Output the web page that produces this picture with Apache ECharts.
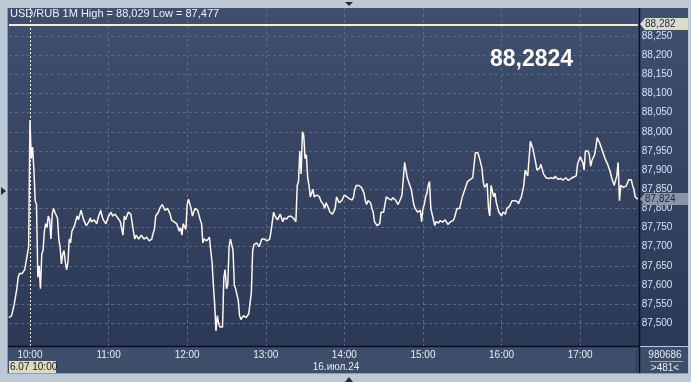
<!DOCTYPE html>
<html><head><meta charset="utf-8">
<script src="https://cdn.jsdelivr.net/npm/echarts@6/dist/echarts.min.js"></script>
<style>html,body{margin:0;padding:0;background:#bcc8d6;overflow:hidden}#c{width:691px;height:382px}</style>
</head><body><div id="c"></div>
<script>
// USD/RUB 1M bars (close), 16.07.24, 09:44 .. 17:44 (481 bars)
const startMinute = 9 * 60 + 44;
const stepMinutes = 1;
const values = [
87.515,87.52,87.52,87.525,87.55,87.57,87.59,87.62,87.63,87.625,87.63,87.635,87.64,87.645,87.68,87.70,88.03,87.93,87.96,87.90,
87.82,87.81,87.62,87.65,87.59,87.68,87.69,87.74,87.76,87.75,87.78,87.77,87.72,87.785,87.80,87.79,87.79,87.775,87.72,87.70,
87.655,87.68,87.69,87.66,87.64,87.66,87.72,87.71,87.74,87.745,87.755,87.75,87.78,87.77,87.77,87.795,87.80,87.77,87.765,87.755,
87.76,87.765,87.775,87.765,87.765,87.77,87.765,87.76,87.775,87.785,87.795,87.78,87.77,87.765,87.76,87.77,87.78,87.775,87.79,87.78,
87.78,87.785,87.785,87.775,87.775,87.765,87.765,87.73,87.78,87.77,87.78,87.79,87.795,87.785,87.78,87.74,87.72,87.73,87.725,87.72,
87.72,87.73,87.73,87.72,87.72,87.725,87.725,87.715,87.715,87.72,87.735,87.745,87.78,87.785,87.79,87.80,87.80,87.81,87.805,87.795,
87.79,87.80,87.795,87.785,87.77,87.775,87.765,87.76,87.76,87.765,87.74,87.75,87.73,87.76,87.76,87.745,87.81,87.824,87.82,87.80,
87.78,87.79,87.80,87.805,87.795,87.79,87.77,87.76,87.71,87.72,87.725,87.715,87.72,87.725,87.69,87.66,87.60,87.55,87.48,87.52,
87.50,87.49,87.485,87.49,87.62,87.64,87.59,87.60,87.70,87.72,87.72,87.69,87.60,87.59,87.585,87.56,87.52,87.51,87.51,87.52,
87.525,87.515,87.515,87.525,87.52,87.58,87.69,87.705,87.705,87.71,87.715,87.70,87.71,87.72,87.725,87.72,87.72,87.715,87.72,87.72,
87.74,87.735,87.79,87.78,87.78,87.77,87.77,87.785,87.78,87.765,87.775,87.775,87.772,87.778,87.775,87.78,87.78,87.775,87.77,87.765,
87.86,87.87,87.95,87.89,88.00,87.99,87.93,87.94,87.88,87.86,87.83,87.825,87.85,87.83,87.83,87.835,87.84,87.83,87.82,87.825,
87.81,87.80,87.815,87.81,87.80,87.79,87.79,87.785,87.79,87.80,87.83,87.825,87.815,87.81,87.82,87.825,87.835,87.83,87.83,87.825,
87.825,87.82,87.822,87.83,87.85,87.86,87.865,87.86,87.86,87.855,87.85,87.84,87.82,87.81,87.82,87.825,87.815,87.80,87.79,87.765,
87.76,87.755,87.755,87.76,87.79,87.785,87.79,87.795,87.83,87.825,87.825,87.82,87.822,87.828,87.828,87.822,87.825,87.81,87.81,87.825,
87.835,87.84,87.92,87.90,87.88,87.875,87.86,87.85,87.83,87.81,87.80,87.805,87.79,87.795,87.795,87.765,87.80,87.81,87.83,87.84,
87.86,87.87,87.80,87.795,87.77,87.755,87.765,87.77,87.762,87.768,87.77,87.764,87.766,87.77,87.764,87.758,87.76,87.765,87.76,87.768,
87.775,87.78,87.80,87.795,87.80,87.805,87.83,87.825,87.85,87.845,87.87,87.865,87.875,87.88,87.88,87.885,87.945,87.94,87.945,87.95,
87.92,87.905,87.87,87.855,87.86,87.865,87.80,87.78,87.86,87.855,87.83,87.84,87.815,87.82,87.79,87.795,87.78,87.79,87.79,87.785,
87.80,87.795,87.805,87.81,87.82,87.815,87.82,87.825,87.818,87.812,87.822,87.828,87.83,87.86,87.90,87.895,87.885,87.88,87.975,87.97,
87.955,87.96,87.92,87.90,87.90,87.905,87.915,87.91,87.89,87.885,87.88,87.875,87.878,87.882,87.88,87.875,87.878,87.884,87.88,87.876,
87.872,87.878,87.878,87.874,87.874,87.88,87.879,87.873,87.873,87.878,87.877,87.882,87.88,87.885,87.915,87.92,87.935,87.93,87.92,87.90,
87.95,87.955,87.95,87.94,87.91,87.925,87.93,87.94,87.96,87.985,87.99,87.97,87.96,87.95,87.94,87.93,87.925,87.915,87.905,87.895,
87.88,87.87,87.86,87.865,87.885,87.92,87.82,87.86,87.86,87.855,87.855,87.858,87.865,87.875,87.88,87.875,87.86,87.85,87.83,87.835,
87.824
];
const yTicks = [87.50,87.55,87.60,87.65,87.70,87.75,87.80,87.85,87.90,87.95,88.00,88.05,88.10,88.15,88.20,88.25];
const askLevel = 88.282;
const lastPrice = 87.824;
const titleText = 'USD/RUB 1M High = 88,029 Low = 87,477';
const bigQuote = '88,2824';
const dateLabel = '16.\u0438\u044e\u043b.24';
const cursorLabel = '6.07 10:00';
const cursorTime = '10:00';
const volumeText = '980686';
const barsText = '>481<';

const times = [];
for (let i = 0; i < values.length; i++) {
  const m = startMinute + i * stepMinutes;
  times.push(String(Math.floor(m / 60)).padStart(2, '0') + ':' + String(m % 60).padStart(2, '0'));
}
const fmt = v => v.toFixed(3).replace('.', ',');
const FONT = 'Liberation Sans, Arial, sans-serif';

const chart = echarts.init(document.getElementById('c'), null, {renderer: 'canvas'});
chart.setOption({
  animation: false,
  backgroundColor: '#bcc8d6',
  grid: {left: 9, right: 53.2, top: 8, bottom: 36},
  xAxis: {
    type: 'category', data: times, boundaryGap: false,
    axisLine: {show: false}, axisTick: {show: false},
    axisLabel: {interval: (i, v) => v.endsWith(':00'), color: '#e6ecf5', fontSize: 10, fontFamily: FONT, margin: 4},
    splitLine: {show: true, interval: (i, v) => v.endsWith(':00') && v !== cursorTime,
      lineStyle: {color: '#58698a', type: [3, 3], width: 1}}
  },
  yAxis: {
    type: 'value', position: 'right', min: 87.4407, max: 88.3232,
    axisLine: {show: false}, axisTick: {show: false}, splitLine: {show: false},
    axisLabel: {customValues: yTicks, formatter: fmt, color: '#d4e2f6', fontSize: 10, fontFamily: FONT, margin: 4}
  },
  series: [{
    type: 'line', data: values, symbol: 'none', showSymbol: false, z: 5,
    lineStyle: {color: '#fff7ef', width: 1.5},
    markLine: {
      silent: true, symbol: 'none', label: {show: false},
      data: yTicks.map(v => ({yAxis: v, lineStyle: {color: '#58698a', type: [3, 3], width: 1}}))
        .concat([
          {yAxis: askLevel, lineStyle: {color: '#f2ecdd', type: 'solid', width: 2}},
          {xAxis: cursorTime, lineStyle: {color: '#ffffff', type: [2, 2], width: 1}}
        ])
    }
  }]
});

const yP = v => chart.convertToPixel({yAxisIndex: 0}, v);
const yAsk = Math.round(yP(askLevel));
const yLast = Math.round(yP(lastPrice));
const grad = new echarts.graphic.LinearGradient(0, 0, 0, 1, [{offset: 0, color: '#3f4f6d'}, {offset: 1, color: '#2b3856'}]);
function priceTag(y, fill, label) {
  return [
    {type: 'polygon', z: 50, shape: {points: [[640, y], [645, y - 6], [688, y - 6], [688, y + 6], [645, y + 6]]}, style: {fill: fill}},
    {type: 'text', z: 51, x: 645, y: y, style: {text: label, fill: '#1c2a46', font: '10px ' + FONT, verticalAlign: 'middle'}}
  ];
}
chart.setOption({
  graphic: [
    {type: 'rect', z: -10, shape: {x: 8, y: 8, width: 680, height: 338}, style: {fill: grad}},
    {type: 'rect', z: -10, shape: {x: 8, y: 347, width: 680, height: 26}, style: {fill: '#3e4d69'}},
    {type: 'line', z: 40, shape: {x1: 8, y1: 346.5, x2: 639, y2: 346.5}, style: {stroke: '#0a1020', lineWidth: 1.5}},
    {type: 'line', z: 40, shape: {x1: 639.5, y1: 8, x2: 639.5, y2: 373}, style: {stroke: '#0a1020', lineWidth: 1.5}},
    {type: 'line', z: 40, shape: {x1: 636.5, y1: 350, x2: 636.5, y2: 372}, style: {stroke: '#2a3650', lineWidth: 1}},
    {type: 'line', z: 40, shape: {x1: 7.5, y1: 8, x2: 7.5, y2: 374}, style: {stroke: '#8c9cb2', lineWidth: 1}},
    {type: 'line', z: 40, shape: {x1: 7.5, y1: 373.5, x2: 688.5, y2: 373.5}, style: {stroke: '#8c9cb2', lineWidth: 1}},
    {type: 'text', z: 60, x: 10, y: 14, style: {text: titleText, fill: '#eef2f9', font: '11px ' + FONT, verticalAlign: 'middle'}},
    {type: 'text', z: 60, x: 490, y: 60, style: {text: bigQuote, fill: '#fffaf2', font: 'bold 23px ' + FONT, verticalAlign: 'middle'}},
    ...priceTag(yAsk, '#dcdcc6', fmt(askLevel)),
    ...priceTag(yLast, '#8b95a5', fmt(lastPrice)),
    {type: 'rect', z: 60, shape: {x: 9, y: 361, width: 47, height: 12}, style: {fill: '#dedac2'}},
    {type: 'text', z: 61, x: 10, y: 367, style: {text: cursorLabel, fill: '#1a1a1a', font: '10px ' + FONT, verticalAlign: 'middle'}},
    {type: 'text', z: 60, x: 336, y: 367, style: {text: dateLabel, fill: '#e6ecf5', font: '10px ' + FONT, align: 'center', verticalAlign: 'middle'}},
    {type: 'text', z: 60, x: 665, y: 355, style: {text: volumeText, fill: '#e6ecf5', font: '10px ' + FONT, align: 'center', verticalAlign: 'middle'}},
    {type: 'line', z: 60, shape: {x1: 650, y1: 361.5, x2: 683, y2: 361.5}, style: {stroke: '#9aa6b8', lineWidth: 1}},
    {type: 'text', z: 60, x: 665, y: 368, style: {text: barsText, fill: '#e6ecf5', font: '10px ' + FONT, align: 'center', verticalAlign: 'middle'}},
    {type: 'polygon', z: 60, shape: {points: [[345, 2], [353, 2], [349, 6]]}, style: {fill: '#1f2b40'}},
    {type: 'polygon', z: 60, shape: {points: [[345, 382], [353, 382], [349, 377]]}, style: {fill: '#1f2b40'}},
    {type: 'polygon', z: 60, shape: {points: [[1, 187], [1, 195], [6, 191]]}, style: {fill: '#1f2b40'}}
  ]
});
</script>
</body></html>
